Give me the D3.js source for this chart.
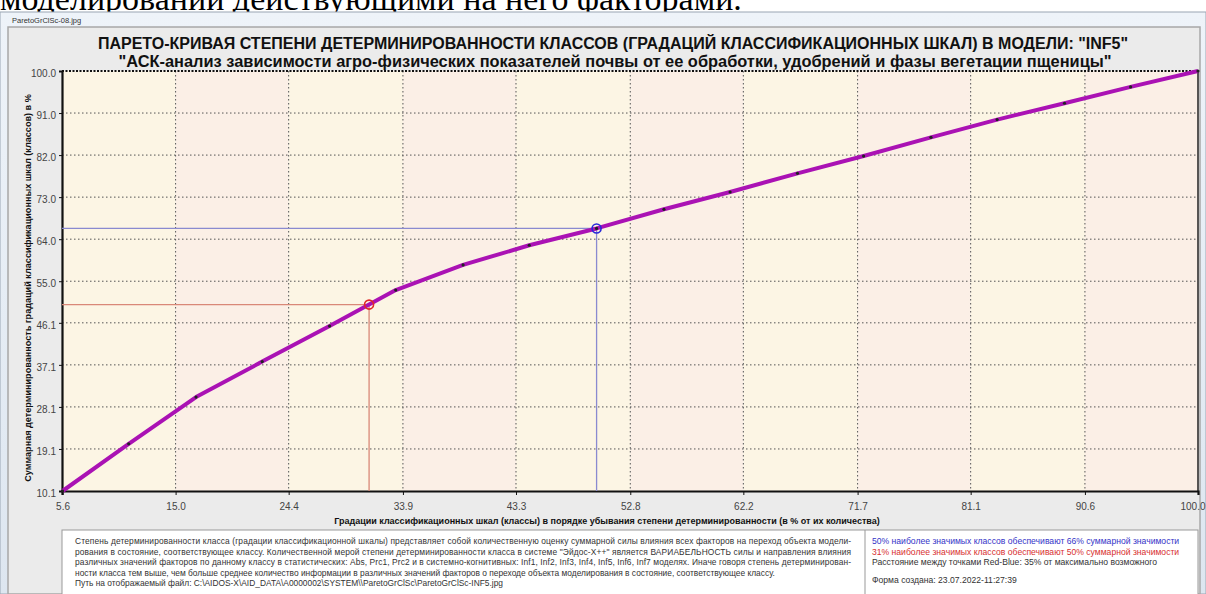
<!DOCTYPE html>
<html>
<head>
<meta charset="utf-8">
<script src="https://cdn.jsdelivr.net/npm/d3@7/dist/d3.min.js"></script>
<style>
  html, body { margin: 0; padding: 0; background: #ffffff; }
  svg { display: block; }
</style>
</head>
<body>
<svg id="chart" width="1206" height="594"></svg>
<script>
// Classes ranked by decreasing determinacy, as % of their number
const classShare = [5.6, 11.1, 16.7, 22.2, 27.8, 33.3, 38.9, 44.4, 50.0, 55.6, 61.1, 66.7, 72.2, 77.8, 83.3, 88.9, 94.4, 100.0];
// Cumulative determinacy, %
const cumulative = [10.1, 20.2, 30.2, 37.8, 45.4, 53.1, 58.5, 62.7, 66.3, 70.4, 74.1, 78.1, 81.8, 85.8, 89.6, 93.1, 96.6, 100.0];

const xTickLabels = ["5.6", "15.0", "24.4", "33.9", "43.3", "52.8", "62.2", "71.7", "81.1", "90.6", "100.0"];
const yTickLabels = ["10.1", "19.1", "28.1", "37.1", "46.1", "55.0", "64.0", "73.0", "82.0", "91.0", "100.0"];

// Distance between the Red and Blue points, % of the maximum possible
const redBlueDistance = 35;

const titleLine1 = 'ПАРЕТО-КРИВАЯ СТЕПЕНИ ДЕТЕРМИНИРОВАННОСТИ КЛАССОВ (ГРАДАЦИЙ КЛАССИФИКАЦИОННЫХ ШКАЛ) В МОДЕЛИ: "INF5"';
const titleLine2 = '"АСК-анализ зависимости агро-физических показателей почвы от ее обработки, удобрений и фазы вегетации пщеницы"';
const xAxisTitle = "Градации классификационных шкал (классы) в порядке убывания степени детерминированности (в % от их количества)";
const yAxisTitle = "Суммарная детерминированность градаций классификационных шкал (классов) в %";
const noteLines = [
  "Степень детерминированности класса (градации классификационной шкалы) представляет собой количественную оценку суммарной силы влияния всех факторов на переход объекта модели-",
  "рования в состояние, соответствующее классу. Количественной мерой степени детерминированности класса в системе \"Эйдос-Х++\" является ВАРИАБЕЛЬНОСТЬ силы и направления влияния",
  "различных значений факторов по данному классу в статистических: Abs, Prc1, Prc2 и в системно-когнитивных: Inf1, Inf2, Inf3, Inf4, Inf5, Inf6, Inf7 моделях. Иначе говоря степень детерминирован-",
  "ности класса тем выше, чем больше среднее количество информации в различных значений факторов о переходе объекта моделирования в состояние, соответствующее классу.",
  "Путь на отображаемый файл: C:\\AIDOS-X\\AID_DATA\\A0000002\\SYSTEM\\\\ParetoGrClSc\\ParetoGrClSc-INF5.jpg"
];
const createdText = "Форма создана: 23.07.2022-11:27:39";

const svg = d3.select("#chart");
const W = 1206, H = 594;
const sans = "'Liberation Sans', Arial, sans-serif";

// Page text above the window
svg.append("text")
  .attr("x", 0).attr("y", 10)
  .attr("font-family", "'Liberation Serif', 'Times New Roman', serif")
  .attr("font-size", 34)
  .attr("fill", "#000")
  .text("моделировании действующими на него факторами.");

// Window frame
const win = svg.append("g");
const tbGrad = svg.append("defs").append("linearGradient")
  .attr("id", "tb").attr("x1", 0).attr("x2", 0).attr("y1", 0).attr("y2", 1);
tbGrad.append("stop").attr("offset", 0).attr("stop-color", "#eef3f9");
tbGrad.append("stop").attr("offset", 1).attr("stop-color", "#dde6f0");
win.append("rect").attr("x", 0).attr("y", 12).attr("width", W).attr("height", H - 12)
  .attr("fill", "url(#tb)").attr("stroke", "#9aa6b4");
win.append("text").attr("x", 12).attr("y", 22.5)
  .attr("font-family", sans).attr("font-size", 7.5).attr("fill", "#333")
  .text("ParetoGrClSc-08.jpg");
win.append("rect").attr("x", 8).attr("y", 27).attr("width", W - 14).attr("height", H - 27)
  .attr("fill", "#ebebeb").attr("stroke", "#a8a8a8").attr("stroke-width", 1.5);

// Titles
svg.append("text").attr("x", 613).attr("y", 49)
  .attr("text-anchor", "middle").attr("font-family", sans)
  .attr("font-weight", "bold").attr("font-size", 16).attr("fill", "#111")
  .text(titleLine1);
svg.append("text").attr("x", 615).attr("y", 66.5)
  .attr("text-anchor", "middle").attr("font-family", sans)
  .attr("font-weight", "bold").attr("font-size", 16.4).attr("fill", "#111")
  .text(titleLine2);

// Scales
const x = d3.scaleLinear().domain([100 / 18, 100]).range([62, 1198]);
const y = d3.scaleLinear().domain([10.1, 100]).range([491, 71]);
const xTicks = xTickLabels.map(Number);
const yTicks = yTickLabels.map(Number);

// Alternating vertical background bands
const bands = svg.append("g");
const edges = [x.domain()[0], ...xTicks.slice(1, -1), x.domain()[1]];
for (let i = 0; i < edges.length - 1; i++) {
  bands.append("rect")
    .attr("x", x(edges[i]))
    .attr("y", y(100))
    .attr("width", x(edges[i + 1]) - x(edges[i]))
    .attr("height", y(10.1) - y(100))
    .attr("fill", i % 2 === 0 ? "#fcf5e4" : "#fbefe6");
}

// Dotted grid
const grid = svg.append("g").attr("stroke", "#555").attr("stroke-width", 1).attr("stroke-dasharray", "1.5,2.5");
grid.selectAll(".gx").data(xTicks.slice(1, -1)).join("line")
  .attr("x1", d => x(d)).attr("x2", d => x(d)).attr("y1", y(100)).attr("y2", y(10.1));
grid.selectAll(".gy").data(yTicks.slice(1, -1)).join("line")
  .attr("y1", d => y(d)).attr("y2", d => y(d)).attr("x1", x.range()[0]).attr("x2", x.range()[1]);

// Plot frame: dashed top, solid right
svg.append("line").attr("x1", 62).attr("x2", 1198).attr("y1", y(100)).attr("y2", y(100))
  .attr("stroke", "#111").attr("stroke-width", 2).attr("stroke-dasharray", "2,1.5");
svg.append("line").attr("x1", 1198).attr("x2", 1198).attr("y1", y(100)).attr("y2", y(10.1))
  .attr("stroke", "#222").attr("stroke-width", 1.5);

// Axes
const xAxis = d3.axisBottom(x).tickValues(xTicks).tickFormat((d, i) => xTickLabels[i]).tickSize(4).tickPadding(8);
const yAxis = d3.axisLeft(y).tickValues(yTicks).tickFormat((d, i) => yTickLabels[i]).tickSize(3).tickPadding(3);
const gx = svg.append("g").attr("transform", `translate(0,${y(10.1)})`).call(xAxis);
const gy = svg.append("g").attr("transform", `translate(${x(x.domain()[0])},0)`).call(yAxis);
[gx, gy].forEach(g => {
  g.select(".domain").attr("stroke", "#111").attr("stroke-width", 2.2);
  g.selectAll(".tick line").attr("stroke", "#111");
  g.selectAll(".tick text").attr("font-family", sans).attr("font-size", 10).attr("fill", "#444");
});
gy.selectAll(".tick text").attr("dy", "0.55em");
// keep the last x label inside the window
gx.selectAll(".tick text").filter((d, i, n) => i === n.length - 1)
  .attr("text-anchor", "end").attr("dx", 7);

// Axis titles
svg.append("text").attr("x", 607).attr("y", 524)
  .attr("text-anchor", "middle").attr("font-family", sans).attr("font-weight", "bold")
  .attr("font-size", 9).attr("fill", "#111").text(xAxisTitle);
svg.append("text").attr("transform", `translate(31,${(y(100) + y(10.1)) / 2 + 7}) rotate(-90)`)
  .attr("text-anchor", "middle").attr("font-family", sans).attr("font-weight", "bold")
  .attr("font-size", 9.1).attr("fill", "#111").text(yAxisTitle);

// Reference points: 50% of classes (blue) and 50% of total determinacy (red)
const blueIdx = classShare.indexOf(50.0);
const blue = { x: classShare[blueIdx], y: cumulative[blueIdx] };
const k = cumulative.findIndex(v => v >= 50);
const t = (50 - cumulative[k - 1]) / (cumulative[k] - cumulative[k - 1]);
const red = { x: classShare[k - 1] + t * (classShare[k] - classShare[k - 1]), y: 50 };

function guides(p, lineColor) {
  svg.append("polyline")
    .attr("points", [[x(x.domain()[0]), y(p.y)], [x(p.x), y(p.y)], [x(p.x), y(10.1)]].join(" "))
    .attr("fill", "none").attr("stroke", lineColor).attr("stroke-width", 1.3);
}
guides(red, "#d98878");
guides(blue, "#8a8ad0");

// Pareto curve
const pts = classShare.map((v, i) => [v, cumulative[i]]);
svg.append("path").datum(pts)
  .attr("d", d3.line().x(d => x(d[0])).y(d => y(d[1])))
  .attr("fill", "none").attr("stroke", "#aa12b4").attr("stroke-width", 4).attr("stroke-linejoin", "round");
svg.append("g").selectAll("circle").data(pts).join("circle")
  .attr("cx", d => x(d[0])).attr("cy", d => y(d[1])).attr("r", 1.6).attr("fill", "#222");

svg.append("circle").attr("cx", x(red.x)).attr("cy", y(red.y)).attr("r", 4.5)
  .attr("fill", "none").attr("stroke", "#e02828").attr("stroke-width", 1.6);
svg.append("circle").attr("cx", x(blue.x)).attr("cy", y(blue.y)).attr("r", 4.5)
  .attr("fill", "none").attr("stroke", "#2828d8").attr("stroke-width", 1.6);

// Info panel
const panel = svg.append("g");
panel.append("rect").attr("x", 62).attr("y", 530).attr("width", 1136).attr("height", 70)
  .attr("fill", "#fff").attr("stroke", "#999");
panel.append("line").attr("x1", 865).attr("x2", 865).attr("y1", 530).attr("y2", 594).attr("stroke", "#999");
noteLines.forEach((s, i) => {
  const tx = panel.append("text").attr("x", 75).attr("y", 544 + i * 10.6)
    .attr("font-family", sans).attr("font-size", 8.4).attr("fill", "#333").text(s);
  if (i < 3) tx.attr("textLength", 776).attr("lengthAdjust", "spacing");
});
const rightLines = [
  { text: `${Math.round(blue.x)}% наиболее значимых классов обеспечивают ${Math.round(blue.y)}% суммарной значимости`, color: "#3434c8", y: 544 },
  { text: `${Math.round(red.x)}% наиболее значимых классов обеспечивают ${Math.round(red.y)}% суммарной значимости`, color: "#d83030", y: 554.6 },
  { text: `Расстояние между точками Red-Blue: ${redBlueDistance}% от максимально возможного`, color: "#333", y: 565.2 },
  { text: createdText, color: "#333", y: 583 }
];
rightLines.forEach(r => panel.append("text").attr("x", 872).attr("y", r.y)
  .attr("font-family", sans).attr("font-size", 8.6).attr("fill", r.color).text(r.text));
</script>
</body>
</html>
